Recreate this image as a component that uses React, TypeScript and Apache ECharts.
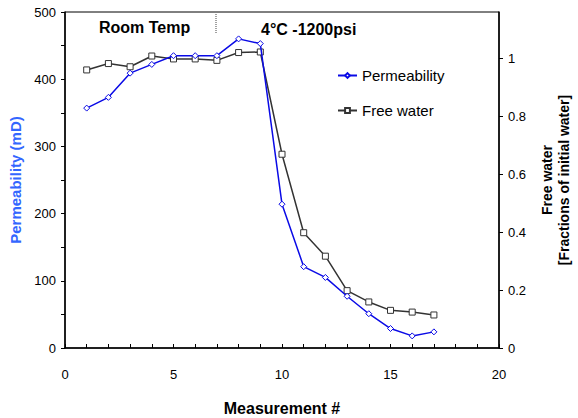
import React, { useEffect, useRef } from "react";
import * as echarts from "echarts";

const measurement = [1, 2, 3, 4, 5, 6, 7, 8, 9, 10, 11, 12, 13, 14, 15, 16, 17];
const permeability = [357, 373, 409, 422, 435, 435, 435, 460, 453, 214, 121, 105, 77, 51, 29, 18, 24];
const freeWater = [0.96, 0.982, 0.971, 1.008, 0.998, 0.998, 0.993, 1.02, 1.022, 0.669, 0.398, 0.317, 0.198, 0.159, 0.13, 0.124, 0.114];
const xLabels = [0, 5, 10, 15, 20];
const leftLabels = [0, 100, 200, 300, 400, 500];

const FONT = "'Liberation Sans', Arial, sans-serif";

export default function App() {
  const ref = useRef<HTMLDivElement>(null);
  useEffect(() => {
    document.body.style.margin = "0";
    const chart = echarts.init(ref.current!, undefined, { renderer: "svg" });
    chart.setOption({
      animation: false,
      textStyle: { fontFamily: FONT },
      grid: {
        left: 65, right: 79, top: 12, bottom: 70,
        outerBoundsMode: "none",
        containLabel: false,
        show: true, borderColor: "#000", borderWidth: 1, backgroundColor: "transparent",
      },
      legend: {
        orient: "vertical",
        left: 332,
        top: 63,
        itemGap: 20,
        itemWidth: 19,
        itemHeight: 6,
        textStyle: { fontSize: 15, color: "#000", fontFamily: FONT },
        data: ["Permeability", "Free water"],
      },
      xAxis: {
        type: "value",
        min: 0, max: 20, interval: 1,
        name: "Measurement #",
        nameLocation: "middle",
        nameGap: 52,
        nameTextStyle: { fontSize: 16, fontWeight: "bold", color: "#000", fontFamily: FONT },
        axisLine: { lineStyle: { color: "#000", width: 1.5 } },
        axisTick: { inside: true, length: 4, lineStyle: { color: "#000" } },
        axisLabel: {
          margin: 20, fontSize: 13, color: "#000",
          formatter: (v: number) => (xLabels.includes(v) ? String(v) : ""),
        },
        splitLine: { show: false },
      },
      yAxis: [
        {
          type: "value",
          min: 0, max: 500, interval: 50,
          name: "Permeability (mD)",
          nameLocation: "middle",
          nameGap: 40,
          nameRotate: 90,
          nameTextStyle: { fontSize: 15, fontWeight: "bold", color: "#3366FF", fontFamily: FONT },
          axisLine: { show: true, lineStyle: { color: "#000", width: 1.5 } },
          axisTick: { show: true, length: 4, lineStyle: { color: "#000" } },
          axisLabel: {
            margin: 9, fontSize: 13, color: "#000",
            formatter: (v: number) => (leftLabels.includes(v) ? String(v) : ""),
          },
          splitLine: { show: false },
        },
        {
          type: "value",
          min: 0, max: 1.16, interval: 0.2,
          position: "right",
          name: "Free water\n[Fractions of initial water]",
          nameLocation: "middle",
          nameGap: 39,
          nameRotate: 90,
          nameTextStyle: { fontSize: 14, fontWeight: "bold", color: "#000", lineHeight: 17, fontFamily: FONT },
          axisLine: { show: true, lineStyle: { color: "#000", width: 1.5 } },
          axisTick: { show: true, length: 4, lineStyle: { color: "#000" } },
          axisLabel: {
            margin: 9, fontSize: 13, color: "#000", showMaxLabel: false,
            formatter: (v: number) => (v > 1.05 ? "" : String(Math.round(v * 10) / 10)),
          },
          splitLine: { show: false },
        },
      ],
      series: [
        {
          name: "Permeability",
          type: "line",
          yAxisIndex: 0,
          data: measurement.map((m, i) => [m, permeability[i]]),
          symbol: "diamond",
          symbolSize: 6,
          lineStyle: { color: "#0a0ae6", width: 1.5 },
          itemStyle: { color: "#fff", borderColor: "#0a0ae6", borderWidth: 1 },
          z: 3,
        },
        {
          name: "Free water",
          type: "line",
          yAxisIndex: 1,
          data: measurement.map((m, i) => [m, freeWater[i]]),
          symbol: "rect",
          symbolSize: 6,
          lineStyle: { color: "#333", width: 1.5 },
          itemStyle: { color: "#fff", borderColor: "#333", borderWidth: 1 },
          z: 2,
        },
      ],
      graphic: [
        {
          type: "text",
          left: 99,
          top: 19,
          style: { text: "Room Temp", fontSize: 16, fontWeight: "bold", fill: "#000", fontFamily: FONT },
        },
        {
          type: "line",
          shape: { x1: 216, y1: 14, x2: 216, y2: 34 },
          style: { stroke: "#444", lineWidth: 1, lineDash: [1, 1] },
        },
        {
          type: "text",
          left: 261,
          top: 21,
          style: { text: "4°C -1200psi", fontSize: 16, fontWeight: "bold", fill: "#000", fontFamily: FONT },
        },
      ],
    });
    return () => chart.dispose();
  }, []);
  return <div ref={ref} style={{ width: 578, height: 418 }} />;
}
